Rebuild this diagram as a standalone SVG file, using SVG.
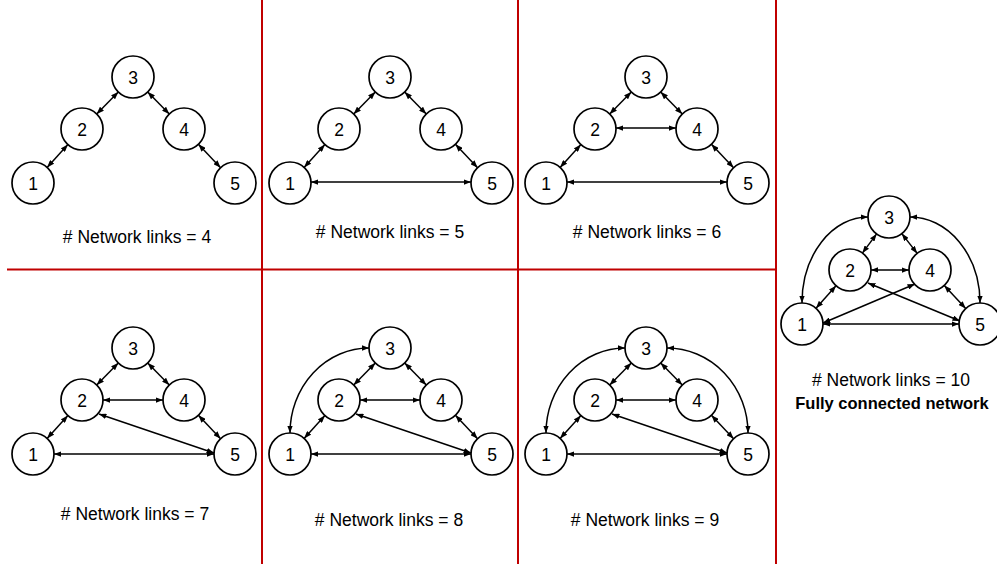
<svg xmlns="http://www.w3.org/2000/svg" width="997" height="564" viewBox="0 0 997 564">
<defs>
<marker id="ah" viewBox="0 0 8 6" refX="8" refY="3" markerWidth="7.5" markerHeight="5.6" markerUnits="userSpaceOnUse" orient="auto-start-reverse">
<path d="M0,0 L8,3 L0,6 z" fill="#000"/>
</marker>
<style>
.nd circle{fill:#fff;stroke:#000;stroke-width:1.7}
.nd text{font-family:"Liberation Sans",Arial,sans-serif;font-size:17.5px;text-anchor:middle;fill:#000}
.e{stroke:#000;stroke-width:1.5;fill:none;marker-start:url(#ah);marker-end:url(#ah)}
.cap{font-family:"Liberation Sans",Arial,sans-serif;font-size:17.5px;text-anchor:middle;fill:#000}
.capb{font-family:"Liberation Sans",Arial,sans-serif;font-size:16.5px;font-weight:bold;text-anchor:middle;fill:#000}
.div{stroke:#C00000;stroke-width:2;fill:none}
</style>
</defs>
<rect width="997" height="564" fill="#fff"/>

<g id="dividers">
<line class="div" x1="262" y1="0" x2="262" y2="564"/>
<line class="div" x1="518" y1="0" x2="518" y2="564"/>
<line class="div" x1="776" y1="0" x2="776" y2="564"/>
<line class="div" x1="7" y1="269.5" x2="776" y2="269.5"/>
</g>

<!-- Panel 1 -->
<g id="p1">
<g id="p1-edges">
<line class="e" x1="47.1" y1="167.4" x2="67.9" y2="144.6"/>
<line class="e" x1="96.7" y1="114" x2="118.3" y2="92"/>
<line class="e" x1="147.7" y1="92" x2="169.3" y2="114"/>
<line class="e" x1="198.4" y1="144.3" x2="220.6" y2="167.7"/>
</g>
<g id="p1-n1" class="nd"><circle cx="33" cy="183" r="21"/><text x="33" y="189.5">1</text></g>
<g id="p1-n2" class="nd"><circle cx="82" cy="129" r="21"/><text x="82" y="135.5">2</text></g>
<g id="p1-n3" class="nd"><circle cx="133" cy="77" r="21"/><text x="133" y="83.5">3</text></g>
<g id="p1-n4" class="nd"><circle cx="184" cy="129" r="21"/><text x="184" y="135.5">4</text></g>
<g id="p1-n5" class="nd"><circle cx="235" cy="183" r="21"/><text x="235" y="189.5">5</text></g>
<text class="cap" x="137" y="243"># Network links = 4</text>
</g>

<!-- Panel 2 -->
<g id="p2" transform="translate(257,0)">
<g id="p2-edges">
<line class="e" x1="47.1" y1="167.4" x2="67.9" y2="144.6"/>
<line class="e" x1="96.7" y1="114" x2="118.3" y2="92"/>
<line class="e" x1="147.7" y1="92" x2="169.3" y2="114"/>
<line class="e" x1="198.4" y1="144.3" x2="220.6" y2="167.7"/>
<line class="e" x1="54" y1="182" x2="214" y2="182"/>
</g>
<g id="p2-n1" class="nd"><circle cx="33" cy="183" r="21"/><text x="33" y="189.5">1</text></g>
<g id="p2-n2" class="nd"><circle cx="82" cy="129" r="21"/><text x="82" y="135.5">2</text></g>
<g id="p2-n3" class="nd"><circle cx="133" cy="77" r="21"/><text x="133" y="83.5">3</text></g>
<g id="p2-n4" class="nd"><circle cx="184" cy="129" r="21"/><text x="184" y="135.5">4</text></g>
<g id="p2-n5" class="nd"><circle cx="235" cy="183" r="21"/><text x="235" y="189.5">5</text></g>
<text class="cap" x="133" y="238"># Network links = 5</text>
</g>

<!-- Panel 3 -->
<g id="p3" transform="translate(513,0)">
<g id="p3-edges">
<line class="e" x1="47.1" y1="167.4" x2="67.9" y2="144.6"/>
<line class="e" x1="96.7" y1="114" x2="118.3" y2="92"/>
<line class="e" x1="147.7" y1="92" x2="169.3" y2="114"/>
<line class="e" x1="198.4" y1="144.3" x2="220.6" y2="167.7"/>
<line class="e" x1="54" y1="182" x2="214" y2="182"/>
<line class="e" x1="103" y1="128" x2="163" y2="128"/>
</g>
<g id="p3-n1" class="nd"><circle cx="33" cy="183" r="21"/><text x="33" y="189.5">1</text></g>
<g id="p3-n2" class="nd"><circle cx="82" cy="129" r="21"/><text x="82" y="135.5">2</text></g>
<g id="p3-n3" class="nd"><circle cx="133" cy="77" r="21"/><text x="133" y="83.5">3</text></g>
<g id="p3-n4" class="nd"><circle cx="184" cy="129" r="21"/><text x="184" y="135.5">4</text></g>
<g id="p3-n5" class="nd"><circle cx="235" cy="183" r="21"/><text x="235" y="189.5">5</text></g>
<text class="cap" x="134" y="238"># Network links = 6</text>
</g>

<!-- Panel 4 -->
<g id="p4" transform="translate(0,271)">
<g id="p4-edges">
<line class="e" x1="47.1" y1="167.4" x2="67.9" y2="144.6"/>
<line class="e" x1="96.7" y1="114" x2="118.3" y2="92"/>
<line class="e" x1="147.7" y1="92" x2="169.3" y2="114"/>
<line class="e" x1="198.4" y1="144.3" x2="220.6" y2="167.7"/>
<line class="e" x1="54" y1="183" x2="214" y2="183"/>
<line class="e" x1="103" y1="129" x2="163" y2="129"/>
<line class="e" x1="99" y1="143" x2="214" y2="182"/>
</g>
<g id="p4-n1" class="nd"><circle cx="33" cy="183" r="21"/><text x="33" y="189.5">1</text></g>
<g id="p4-n2" class="nd"><circle cx="82" cy="129" r="21"/><text x="82" y="135.5">2</text></g>
<g id="p4-n3" class="nd"><circle cx="133" cy="77" r="21"/><text x="133" y="83.5">3</text></g>
<g id="p4-n4" class="nd"><circle cx="184" cy="129" r="21"/><text x="184" y="135.5">4</text></g>
<g id="p4-n5" class="nd"><circle cx="235" cy="183" r="21"/><text x="235" y="189.5">5</text></g>
<text class="cap" x="135" y="249"># Network links = 7</text>
</g>

<!-- Panel 5 -->
<g id="p5" transform="translate(257,271)">
<g id="p5-edges">
<line class="e" x1="47.1" y1="167.4" x2="67.9" y2="144.6"/>
<line class="e" x1="96.7" y1="114" x2="118.3" y2="92"/>
<line class="e" x1="147.7" y1="92" x2="169.3" y2="114"/>
<line class="e" x1="198.4" y1="144.3" x2="220.6" y2="167.7"/>
<line class="e" x1="54" y1="183" x2="214" y2="183"/>
<line class="e" x1="103" y1="129" x2="163" y2="129"/>
<line class="e" x1="99" y1="143" x2="214" y2="182"/>
<path class="e" d="M112,77 A79,85 0 0 0 33,162"/>
</g>
<g id="p5-n1" class="nd"><circle cx="33" cy="183" r="21"/><text x="33" y="189.5">1</text></g>
<g id="p5-n2" class="nd"><circle cx="82" cy="129" r="21"/><text x="82" y="135.5">2</text></g>
<g id="p5-n3" class="nd"><circle cx="133" cy="77" r="21"/><text x="133" y="83.5">3</text></g>
<g id="p5-n4" class="nd"><circle cx="184" cy="129" r="21"/><text x="184" y="135.5">4</text></g>
<g id="p5-n5" class="nd"><circle cx="235" cy="183" r="21"/><text x="235" y="189.5">5</text></g>
<text class="cap" x="132" y="255"># Network links = 8</text>
</g>

<!-- Panel 6 -->
<g id="p6" transform="translate(513,271)">
<g id="p6-edges">
<line class="e" x1="47.1" y1="167.4" x2="67.9" y2="144.6"/>
<line class="e" x1="96.7" y1="114" x2="118.3" y2="92"/>
<line class="e" x1="147.7" y1="92" x2="169.3" y2="114"/>
<line class="e" x1="198.4" y1="144.3" x2="220.6" y2="167.7"/>
<line class="e" x1="54" y1="183" x2="214" y2="183"/>
<line class="e" x1="103" y1="129" x2="163" y2="129"/>
<line class="e" x1="99" y1="143" x2="214" y2="182"/>
<path class="e" d="M112,77 A79,85 0 0 0 33,162"/>
<path class="e" d="M154,77 A81,85 0 0 1 235,162"/>
</g>
<g id="p6-n1" class="nd"><circle cx="33" cy="183" r="21"/><text x="33" y="189.5">1</text></g>
<g id="p6-n2" class="nd"><circle cx="82" cy="129" r="21"/><text x="82" y="135.5">2</text></g>
<g id="p6-n3" class="nd"><circle cx="133" cy="77" r="21"/><text x="133" y="83.5">3</text></g>
<g id="p6-n4" class="nd"><circle cx="184" cy="129" r="21"/><text x="184" y="135.5">4</text></g>
<g id="p6-n5" class="nd"><circle cx="235" cy="183" r="21"/><text x="235" y="189.5">5</text></g>
<text class="cap" x="132" y="255"># Network links = 9</text>
</g>

<!-- Panel 7 -->
<g id="p7">
<g id="p7-edges">
<line class="e" x1="816" y1="308.3" x2="836" y2="285.7"/>
<line class="e" x1="862.4" y1="253.1" x2="876.6" y2="233.9"/>
<line class="e" x1="901.8" y1="233.6" x2="917.2" y2="253.4"/>
<line class="e" x1="944.3" y1="285.4" x2="965.7" y2="308.6"/>
<line class="e" x1="871" y1="270" x2="909" y2="270"/>
<line class="e" x1="823" y1="324" x2="959" y2="324"/>
<line class="e" x1="868" y1="283" x2="960" y2="321"/>
<line class="e" x1="823" y1="323" x2="915" y2="284"/>
<path class="e" d="M868,217 A66,86 0 0 0 802,303"/>
<path class="e" d="M910,217 A70,86 0 0 1 980,303"/>
</g>
<g id="p7-n1" class="nd"><circle cx="802" cy="324" r="21"/><text x="802" y="330.5">1</text></g>
<g id="p7-n2" class="nd"><circle cx="850" cy="270" r="21"/><text x="850" y="276.5">2</text></g>
<g id="p7-n3" class="nd"><circle cx="889" cy="217" r="21"/><text x="889" y="223.5">3</text></g>
<g id="p7-n4" class="nd"><circle cx="930" cy="270" r="21"/><text x="930" y="276.5">4</text></g>
<g id="p7-n5" class="nd"><circle cx="980" cy="324" r="21"/><text x="980" y="330.5">5</text></g>
<text class="cap" x="891" y="386"># Network links = 10</text>
<text class="capb" x="892" y="409">Fully connected network</text>
</g>
</svg>
